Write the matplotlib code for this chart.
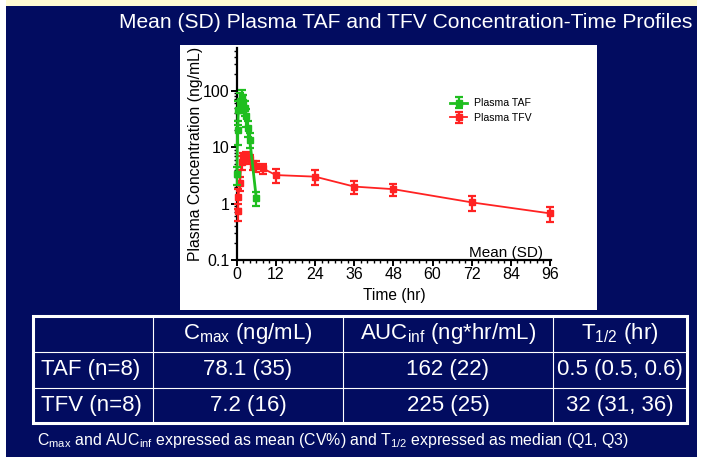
import numpy as np
import matplotlib.pyplot as plt
from matplotlib.patches import Rectangle
from matplotlib.ticker import FixedLocator, FixedFormatter, MultipleLocator, LogLocator, NullFormatter

plt.rcParams['font.family'] = ['Liberation Sans', 'DejaVu Sans']
plt.rcParams['mathtext.fontset'] = 'custom'
plt.rcParams['mathtext.rm'] = 'Liberation Sans'

# plasma TAF, mean (SD)
t_taf = [0.08, 0.25, 0.5, 1, 1.5, 2, 2.5, 3, 3.5, 4, 6]
taf_mean = [3.3, 20, 45, 65, 78, 62, 50, 35, 22, 13.5, 1.25]
taf_sd = [1.2, 9, 20, 25, 27, 22, 15, 12, 7, 4, 0.35]

# plasma TFV, mean (SD)
t_tfv = [0.25, 0.5, 1, 1.5, 2, 3, 4, 5, 6, 8, 12, 24, 36, 48, 72, 96]
tfv_mean = [0.75, 1.3, 2.3, 5.5, 6.6, 7.0, 6.2, 4.8, 4.7, 4.2, 3.2, 3.0, 2.0, 1.8, 1.05, 0.67]
tfv_sd = [0.25, 0.5, 0.6, 1.5, 1.2, 1.1, 1.2, 0.8, 1.0, 0.8, 0.85, 0.9, 0.5, 0.45, 0.3, 0.2]

xticks = [0, 12, 24, 36, 48, 60, 72, 84, 96]
yticks = [0.1, 1, 10, 100]
ytick_labels = ['0.1', '1', '10', '100']

col_heads = [r'C$_{\mathregular{max}}$ (ng/mL)', r'AUC$_{\mathregular{inf}}$ (ng*hr/mL)',
             r'T$_{\mathregular{1/2}}$ (hr)']
row_heads = ['TAF (n=8)', 'TFV (n=8)']
cells = [['78.1 (35)', '162 (22)', '0.5 (0.5, 0.6)'],
         ['7.2 (16)', '225 (25)', '32 (31, 36)']]

title = 'Mean (SD) Plasma TAF and TFV Concentration-Time Profiles'
footnote = (r'C$_{\mathregular{max}}$ and AUC$_{\mathregular{inf}}$ expressed as mean (CV%) '
            r'and T$_{\mathregular{1/2}}$ expressed as median (Q1, Q3)')

navy = '#020c60'
green = '#1fbe1f'
red = '#ff2222'

W, H = 711, 472
fig = plt.figure(figsize=(W / 100, H / 100), dpi=100, facecolor='white')

# slide background in pixel coordinates
bg = fig.add_axes([0, 0, 1, 1], zorder=0)
bg.set_xlim(0, W)
bg.set_ylim(H, 0)
bg.axis('off')
bg.add_patch(Rectangle((6, 0), 691, 6, color='#fffbd2', lw=0))
bg.add_patch(Rectangle((6, 6), 691, 451, color=navy, lw=0))
bg.add_patch(Rectangle((180, 45), 417, 265, color='white', lw=0))
bg.text(406, 22, title, ha='center', va='center', color='white', fontsize=15.1)
bg.text(543, 253, 'Mean (SD)', ha='right', va='center', color='black', fontsize=11)

# table
cols = [33, 153, 343, 553, 687]
rows = [316, 352, 388, 423]
for x in cols[1:-1]:
    bg.plot([x, x], [rows[0], rows[-1]], color='white', lw=0.8)
for y in rows[1:-1]:
    bg.plot([cols[0], cols[-1]], [y, y], color='white', lw=0.8)
bg.add_patch(Rectangle((cols[0], rows[0]), cols[-1] - cols[0], rows[-1] - rows[0],
                       fill=False, ec='white', lw=2.2))
for j, h in enumerate(col_heads):
    bg.text((cols[j + 1] + cols[j + 2]) / 2, (rows[0] + rows[1]) / 2, h,
            ha='center', va='center', color='white', fontsize=16)
for i, r in enumerate(row_heads):
    yc = (rows[i + 1] + rows[i + 2]) / 2
    bg.text(cols[0] + 8, yc, r, ha='left', va='center', color='white', fontsize=16)
    for j, c in enumerate(cells[i]):
        bg.text((cols[j + 1] + cols[j + 2]) / 2, yc, c, ha='center', va='center',
                color='white', fontsize=16)
bg.text(37, 440, footnote, ha='left', va='center', color='white', fontsize=11.4)

# concentration-time plot
x0, x1, ytop, ybot = 236.7, 551, 48, 260
ax = fig.add_axes([x0 / W, 1 - ybot / H, (x1 - x0) / W, (ybot - ytop) / H], zorder=1)
ax.patch.set_alpha(0)
ax.set_yscale('log')
ax.set_xlim(0, 96.3)
ax.set_ylim(0.1, 10 ** (2 + (90.7 - ytop) / 56.4))

ax.errorbar(t_tfv, tfv_mean, yerr=tfv_sd, color=red, marker='s', ms=4.5, lw=1.3,
            elinewidth=1.6, capsize=3, capthick=1.6, clip_on=False, label='Plasma TFV', zorder=3)
ax.errorbar(t_taf, taf_mean, yerr=taf_sd, color=green, marker='s', ms=4.5, lw=2,
            elinewidth=1.6, capsize=3, capthick=1.6, clip_on=False, label='Plasma TAF', zorder=4)

ax.xaxis.set_major_locator(FixedLocator(xticks))
ax.xaxis.set_minor_locator(MultipleLocator(2))
ax.yaxis.set_major_locator(FixedLocator(yticks))
ax.yaxis.set_major_formatter(FixedFormatter(ytick_labels))
ax.yaxis.set_minor_locator(LogLocator(base=10, subs=np.arange(2, 10)))
ax.yaxis.set_minor_formatter(NullFormatter())
for s in ['top', 'right']:
    ax.spines[s].set_visible(False)
for s in ['left', 'bottom']:
    ax.spines[s].set_linewidth(1.6)
ax.tick_params(which='major', length=4, width=1.4, labelsize=11.5, pad=1)
ax.tick_params(which='minor', length=2.5, width=1)

ax.set_ylabel('Plasma Concentration (ng/mL)', fontsize=11.3)
ax.yaxis.set_label_coords(-0.107, 0.5)
ax.set_xlabel('Time (hr)', fontsize=11.2)
ax.xaxis.set_label_coords(0.5, -0.13)

h, l = ax.get_legend_handles_labels()
ax.legend(h[::-1], l[::-1], loc='upper left', bbox_to_anchor=(445 / W, 1 - 93 / H),
          bbox_transform=fig.transFigure, frameon=False, fontsize=7.6, handlelength=1.6,
          handletextpad=0.6, labelspacing=0.45, borderpad=0)

fig.savefig('out.png', dpi=100, facecolor='white')
